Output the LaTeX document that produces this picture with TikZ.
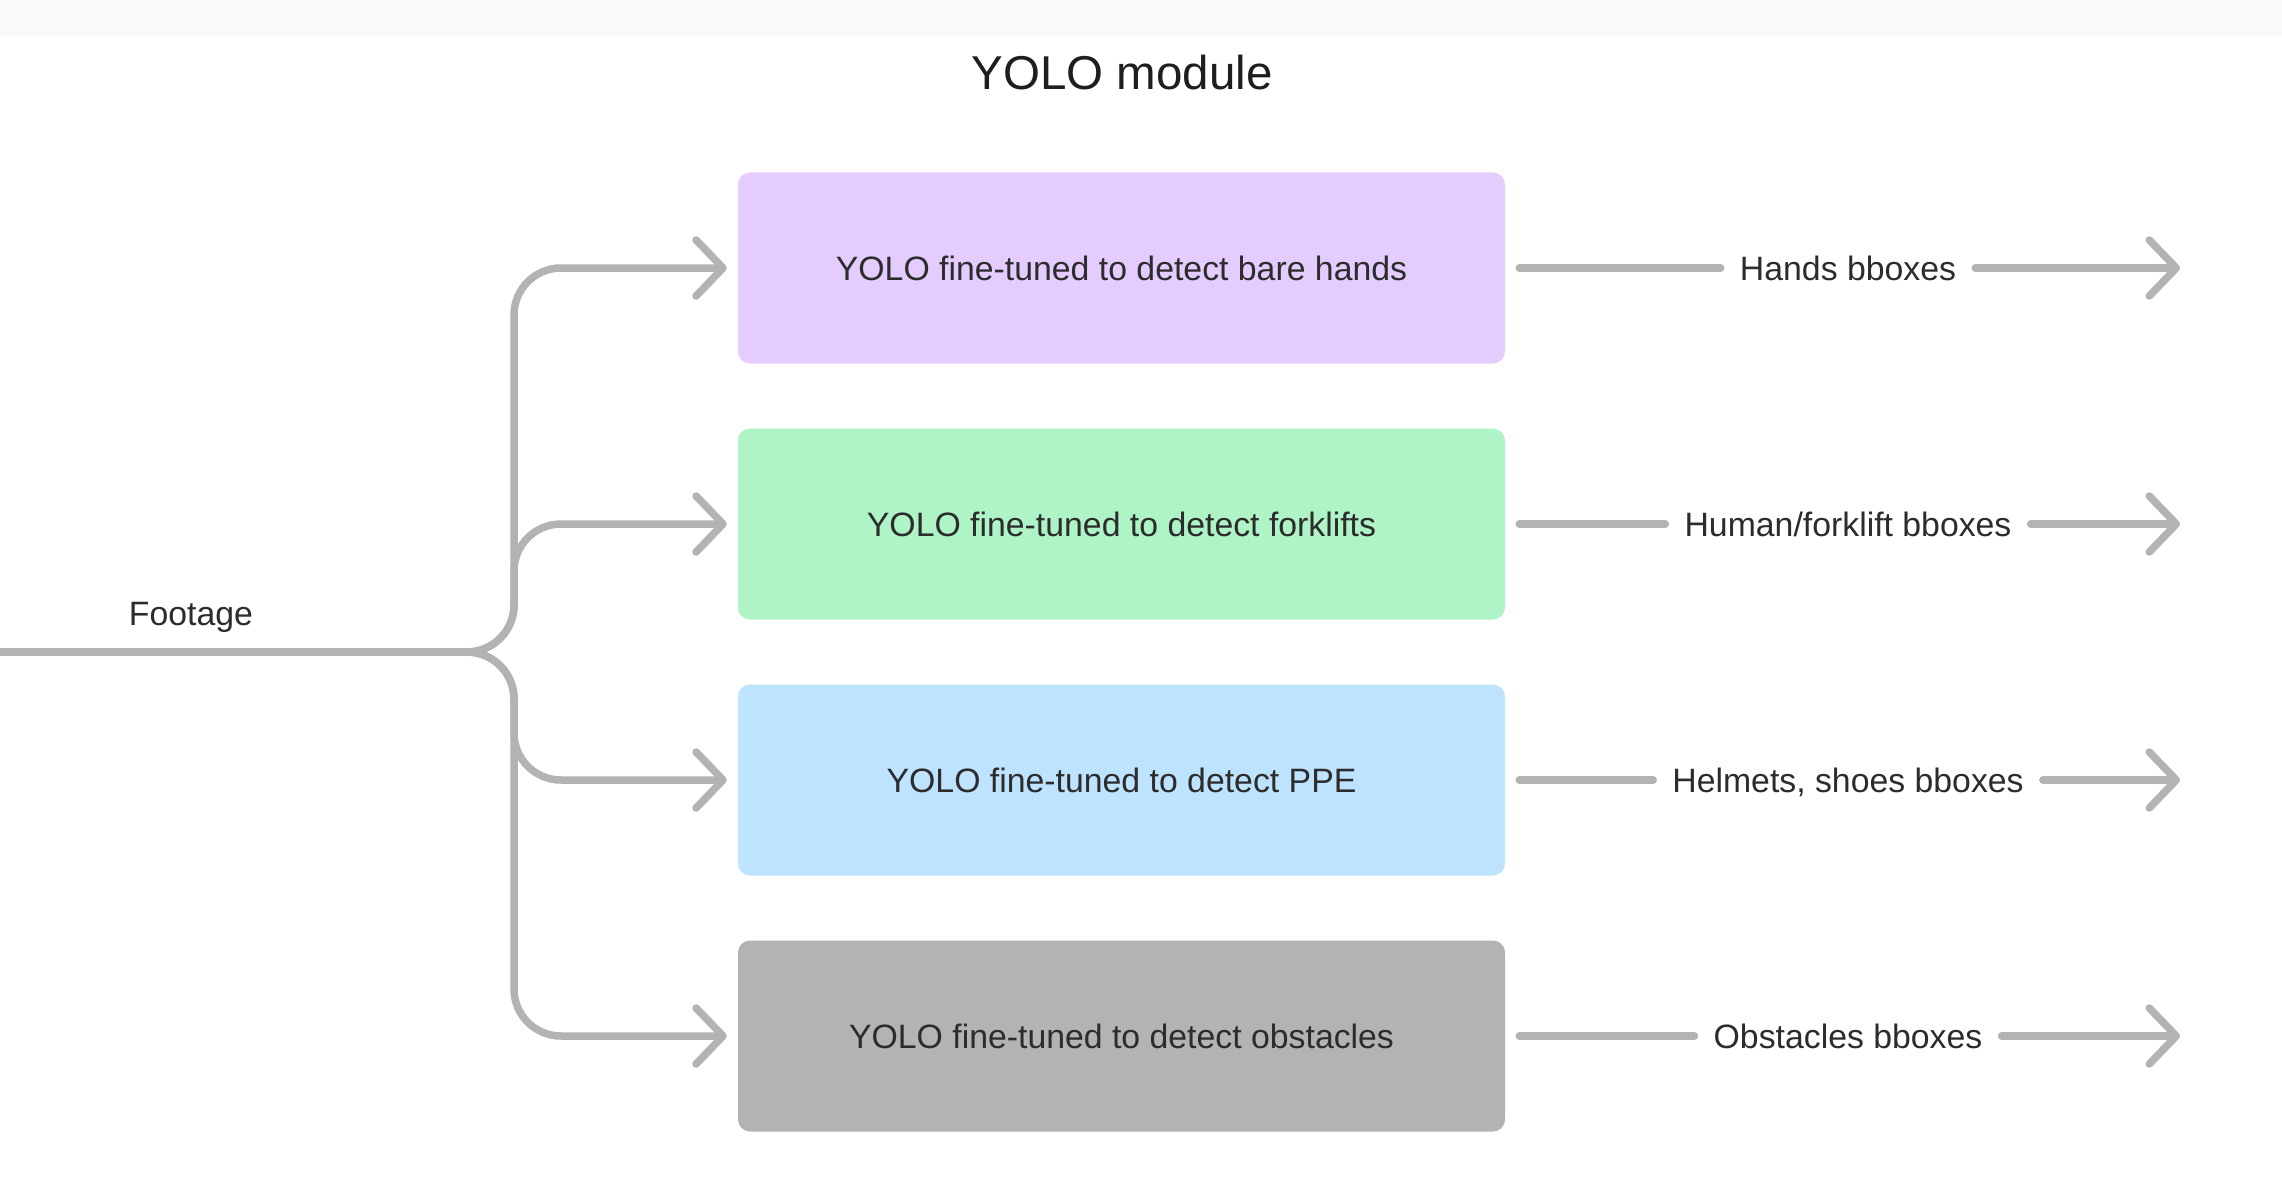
\documentclass[tikz,border=0pt]{standalone}
\usepackage{fontspec}
\setmainfont{Liberation Sans}
\usetikzlibrary{arrows.meta}
\definecolor{lnc}{HTML}{B3B3B3}
\definecolor{txt}{HTML}{2C2C2C}
\definecolor{ttl}{HTML}{1E1E1E}
\definecolor{band}{HTML}{F9F9F9}
\definecolor{cpurple}{HTML}{E4CCFF}
\definecolor{cgreen}{HTML}{AFF4C6}
\definecolor{cblue}{HTML}{BDE3FF}
\definecolor{cgray}{HTML}{B3B3B3}
\begin{document}
\begin{tikzpicture}[x=1pt,y=-1pt,
  conn/.style={draw=lnc, line width=7.5pt, line cap=round, line join=round},
  tipped/.style={-{Straight Barb[length=27pt,width=56pt,round]}},
  modbox/.style={rectangle, rounded corners=12pt, minimum width=767pt, minimum height=191pt,
    inner sep=0pt, font=\fontsize{33.8}{40}\selectfont, text=txt, text height=24pt, text depth=0pt},
  lab/.style={font=\fontsize{33.8}{40}\selectfont, text=txt, text height=24pt, text depth=0pt,
    inner xsep=19pt, inner ysep=0pt}
]
\useasboundingbox (0,0) rectangle (2282,1201);
\fill[white] (0,0) rectangle (2282,1201);
\fill[band] (0,0) rectangle (2282,36);

\node[anchor=base, font=\fontsize{47.5}{56}\selectfont, text=ttl, inner sep=0pt] (title) at (1122,90) {YOLO module};

\node[modbox, fill=cpurple] (b1) at (1121.5,268) {YOLO fine-tuned to detect bare hands};
\node[modbox, fill=cgreen]  (b2) at (1121.5,524) {YOLO fine-tuned to detect forklifts};
\node[modbox, fill=cblue]   (b3) at (1121.5,780) {YOLO fine-tuned to detect PPE};
\node[modbox, fill=cgray]   (b4) at (1121.5,1036) {YOLO fine-tuned to detect obstacles};

% input
\coordinate (src) at (0,652);
\coordinate (junc) at (514,652);
\node[lab, inner xsep=0pt] (footage) at (191,613) {Footage};

\draw[conn, line cap=butt, tipped, rounded corners=47pt] (src) -- (junc) |- ([xshift=-11pt]b1.west);
\draw[conn, line cap=butt, tipped, rounded corners=47pt] (src) -- (junc) |- ([xshift=-11pt]b2.west);
\draw[conn, line cap=butt, tipped, rounded corners=47pt] (src) -- (junc) |- ([xshift=-11pt]b3.west);
\draw[conn, line cap=butt, tipped, rounded corners=47pt] (src) -- (junc) |- ([xshift=-11pt]b4.west);

% outputs
\node[lab] (l1) at (1848,268) {Hands bboxes};
\node[lab] (l2) at (1848,524) {Human/forklift bboxes};
\node[lab] (l3) at (1848,780) {Helmets, shoes bboxes};
\node[lab] (l4) at (1848,1036) {Obstacles bboxes};

\coordinate (o1) at (2180,268);
\coordinate (o2) at (2180,524);
\coordinate (o3) at (2180,780);
\coordinate (o4) at (2180,1036);

\foreach \i in {1,2,3,4}{
  \draw[conn] ([xshift=14pt]b\i.east) -- (l\i.west);
  \draw[conn, tipped] (l\i.east) -- (o\i);
}
\end{tikzpicture}
\end{document}
